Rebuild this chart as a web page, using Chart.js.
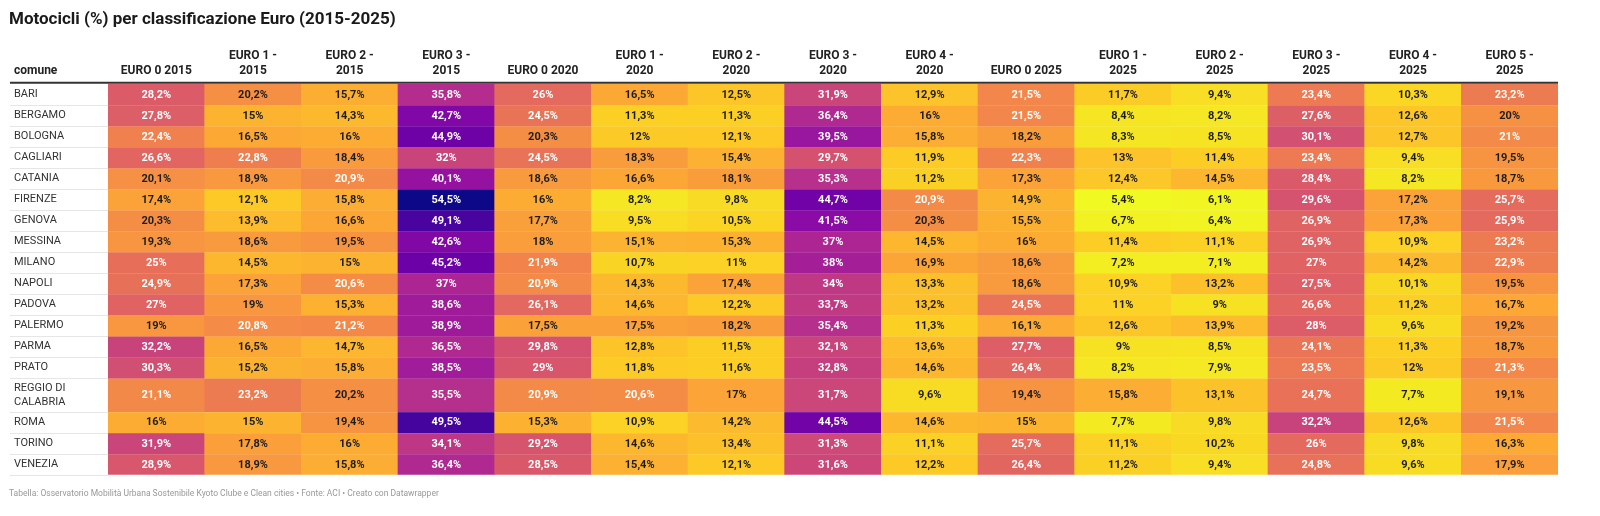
<!DOCTYPE html>
<html>
<head>
<meta charset="utf-8">
<script src="https://cdn.jsdelivr.net/npm/chart.js@4"></script>
<style>
  body { margin: 0; background: #fff; }
  #wrap { width: 1600px; height: 516px; }
</style>
</head>
<body>
<div id="wrap"><canvas id="heat"></canvas></div>
<script>
var cities = ["BARI", "BERGAMO", "BOLOGNA", "CAGLIARI", "CATANIA", "FIRENZE", "GENOVA", "MESSINA", "MILANO",
  "NAPOLI", "PADOVA", "PALERMO", "PARMA", "PRATO", "REGGIO DI CALABRIA", "ROMA", "TORINO", "VENEZIA"];

var columns = ["EURO 0 2015", "EURO 1 - 2015", "EURO 2 - 2015", "EURO 3 - 2015", "EURO 0 2020", "EURO 1 - 2020",
  "EURO 2 - 2020", "EURO 3 - 2020", "EURO 4 - 2020", "EURO 0 2025", "EURO 1 - 2025", "EURO 2 - 2025",
  "EURO 3 - 2025", "EURO 4 - 2025", "EURO 5 - 2025"];

// one array per column, in city order
var euro0_2015 = [28.2, 27.8, 22.4, 26.6, 20.1, 17.4, 20.3, 19.3, 25, 24.9, 27, 19, 32.2, 30.3, 21.1, 16, 31.9, 28.9];
var euro1_2015 = [20.2, 15, 16.5, 22.8, 18.9, 12.1, 13.9, 18.6, 14.5, 17.3, 19, 20.8, 16.5, 15.2, 23.2, 15, 17.8, 18.9];
var euro2_2015 = [15.7, 14.3, 16, 18.4, 20.9, 15.8, 16.6, 19.5, 15, 20.6, 15.3, 21.2, 14.7, 15.8, 20.2, 19.4, 16, 15.8];
var euro3_2015 = [35.8, 42.7, 44.9, 32, 40.1, 54.5, 49.1, 42.6, 45.2, 37, 38.6, 38.9, 36.5, 38.5, 35.5, 49.5, 34.1, 36.4];
var euro0_2020 = [26, 24.5, 20.3, 24.5, 18.6, 16, 17.7, 18, 21.9, 20.9, 26.1, 17.5, 29.8, 29, 20.9, 15.3, 29.2, 28.5];
var euro1_2020 = [16.5, 11.3, 12, 18.3, 16.6, 8.2, 9.5, 15.1, 10.7, 14.3, 14.6, 17.5, 12.8, 11.8, 20.6, 10.9, 14.6, 15.4];
var euro2_2020 = [12.5, 11.3, 12.1, 15.4, 18.1, 9.8, 10.5, 15.3, 11, 17.4, 12.2, 18.2, 11.5, 11.6, 17, 14.2, 13.4, 12.1];
var euro3_2020 = [31.9, 36.4, 39.5, 29.7, 35.3, 44.7, 41.5, 37, 38, 34, 33.7, 35.4, 32.1, 32.8, 31.7, 44.5, 31.3, 31.6];
var euro4_2020 = [12.9, 16, 15.8, 11.9, 11.2, 20.9, 20.3, 14.5, 16.9, 13.3, 13.2, 11.3, 13.6, 14.6, 9.6, 14.6, 11.1, 12.2];
var euro0_2025 = [21.5, 21.5, 18.2, 22.3, 17.3, 14.9, 15.5, 16, 18.6, 18.6, 24.5, 16.1, 27.7, 26.4, 19.4, 15, 25.7, 26.4];
var euro1_2025 = [11.7, 8.4, 8.3, 13, 12.4, 5.4, 6.7, 11.4, 7.2, 10.9, 11, 12.6, 9, 8.2, 15.8, 7.7, 11.1, 11.2];
var euro2_2025 = [9.4, 8.2, 8.5, 11.4, 14.5, 6.1, 6.4, 11.1, 7.1, 13.2, 9, 13.9, 8.5, 7.9, 13.1, 9.8, 10.2, 9.4];
var euro3_2025 = [23.4, 27.6, 30.1, 23.4, 28.4, 29.6, 26.9, 26.9, 27, 27.5, 26.6, 28, 24.1, 23.5, 24.7, 32.2, 26, 24.8];
var euro4_2025 = [10.3, 12.6, 12.7, 9.4, 8.2, 17.2, 17.3, 10.9, 14.2, 10.1, 11.2, 9.6, 11.3, 12, 7.7, 12.6, 9.8, 9.6];
var euro5_2025 = [23.2, 20, 21, 19.5, 18.7, 25.7, 25.9, 23.2, 22.9, 19.5, 16.7, 19.2, 18.7, 21.3, 19.1, 21.5, 16.3, 17.9];

var series = [euro0_2015, euro1_2015, euro2_2015, euro3_2015, euro0_2020, euro1_2020, euro2_2020, euro3_2020,
  euro4_2020, euro0_2025, euro1_2025, euro2_2025, euro3_2025, euro4_2025, euro5_2025];

var FONT = "Roboto";

// header "EURO 1 - 2015" -> ["EURO 1 -", "2015"]
function headerLines(c) {
  var p = c.split(" - ");
  return p.length > 1 ? [p[0] + " -", p[1]] : c;
}

// wrap long city names like the table does
function cityLines(c) {
  if (c.length <= 12) return [c];
  var words = c.split(" "), lines = [], cur = "";
  words.forEach(function (w) {
    if (cur && (cur + " " + w).length > 11) { lines.push(cur); cur = w; }
    else cur = cur ? cur + " " + w : w;
  });
  lines.push(cur);
  return lines;
}

var labelLines = cities.map(cityLines);
var rowTop = [], rowH = [], total = 0;
labelLines.forEach(function (l) {
  var h = 1 + 0.6 * (l.length - 1);
  rowTop.push(total);
  rowH.push(h);
  total += h;
});

// plasma colour scale, reversed (low = yellow, high = dark blue)
var plasma = ["#0d0887", "#41049d", "#6a00a8", "#8f0da4", "#b12a90", "#cc4778",
  "#e16462", "#f2844b", "#fca636", "#fcce25", "#f0f921"];
var all = [].concat.apply([], series);
var vmin = Math.min.apply(null, all), vmax = Math.max.apply(null, all);

function hex(h) { return [1, 3, 5].map(function (i) { return parseInt(h.substr(i, 2), 16); }); }

function colorFor(v) {
  var t = Math.pow((v - vmin) / (vmax - vmin), 1.1);
  var u = (1 - t) * (plasma.length - 1);
  var i = Math.min(Math.floor(u), plasma.length - 2), f = u - i;
  var a = hex(plasma[i]), b = hex(plasma[i + 1]);
  return "rgb(" + a.map(function (c, k) { return Math.round(c + (b[k] - c) * f); }).join(",") + ")";
}

function fmt(v) { return String(v).replace(".", ",") + "%"; }

var datasets = cities.map(function (c, i) {
  return {
    label: c,
    data: columns.map(function () { return [rowTop[i], rowTop[i] + rowH[i]]; }),
    backgroundColor: series.map(function (s) { return colorFor(s[i]); }),
    borderWidth: 0,
    borderSkipped: false,
    barPercentage: 1,
    categoryPercentage: 1,
    grouped: false
  };
});

var tablePlugin = {
  id: "tablePlugin",
  afterLayout: function (chart) {
    // city labels sit a little to the right of the title
    chart.scales.y.left = 14;
  },
  afterDatasetsDraw: function (chart) {
    var ctx = chart.ctx, area = chart.chartArea, y = chart.scales.y;
    ctx.save();
    // row separators
    for (var i = 1; i <= cities.length; i++) {
      var py = Math.round(y.getPixelForValue(i < cities.length ? rowTop[i] : total)) + 0.5;
      ctx.lineWidth = 1;
      ctx.strokeStyle = "#e6e6e6";
      ctx.beginPath(); ctx.moveTo(10, py); ctx.lineTo(area.left, py); ctx.stroke();
      if (i < cities.length) {
        ctx.strokeStyle = "rgba(255,255,255,0.12)";
        ctx.beginPath(); ctx.moveTo(area.left, py); ctx.lineTo(area.right, py); ctx.stroke();
      }
    }
    // cell values
    ctx.font = "bold 11px " + FONT;
    ctx.textAlign = "center";
    ctx.textBaseline = "middle";
    chart.data.datasets.forEach(function (ds, i) {
      chart.getDatasetMeta(i).data.forEach(function (bar, j) {
        var v = series[j][i], p = bar.getCenterPoint();
        ctx.fillStyle = v > 20.45 ? "#ffffff" : "#1d1d1d";
        ctx.fillText(fmt(v), p.x, p.y + 0.5);
      });
    });
    // header rule and first column title
    ctx.strokeStyle = "#333333";
    ctx.lineWidth = 2;
    ctx.beginPath(); ctx.moveTo(10, area.top - 1); ctx.lineTo(area.right, area.top - 1); ctx.stroke();
    ctx.font = "bold 12px " + FONT;
    ctx.fillStyle = "#222222";
    ctx.textAlign = "left";
    ctx.fillText("comune", 14, area.top - 12.5);
    ctx.restore();
  }
};

new Chart(document.getElementById("heat"), {
  type: "bar",
  data: { labels: columns.map(headerLines), datasets: datasets },
  options: {
    responsive: true,
    maintainAspectRatio: false,
    animation: false,
    events: [],
    layout: { padding: { left: 9, right: 42, top: 0, bottom: 17 } },
    scales: {
      x: {
        position: "top",
        grid: { display: false, drawTicks: false },
        border: { display: false },
        ticks: {
          color: "#222222",
          font: { family: FONT, size: 12, weight: "bold", lineHeight: 1.25 },
          padding: 5,
          maxRotation: 0,
          autoSkip: false
        },
        afterFit: function (s) { s.height = 46.4; }
      },
      y: {
        type: "linear",
        reverse: true,
        min: 0,
        max: total,
        grid: { display: false, drawTicks: false },
        border: { display: false },
        ticks: {
          crossAlign: "far",
          autoSkip: false,
          color: "#333333",
          font: { family: FONT, size: 11, lineHeight: 1.25 },
          callback: function (v, i) { return labelLines[i]; }
        },
        afterBuildTicks: function (s) {
          s.ticks = rowTop.map(function (t, i) { return { value: t + rowH[i] / 2 }; });
        },
        afterFit: function (s) { s.width = 99; }
      }
    },
    plugins: {
      legend: { display: false },
      tooltip: { enabled: false },
      title: {
        display: true,
        text: "Motocicli (%) per classificazione Euro (2015-2025)",
        align: "start",
        color: "#1a1a1a",
        font: { family: FONT, size: 17, weight: "bold", lineHeight: 1.2 },
        padding: { top: 10, bottom: 7 }
      },
      subtitle: {
        display: true,
        position: "bottom",
        align: "start",
        text: "Tabella: Osservatorio Mobilità Urbana Sostenibile Kyoto Clube e Clean cities • Fonte: ACI • Creato con Datawrapper",
        color: "#999999",
        font: { family: FONT, size: 8.5, lineHeight: 1.2 },
        padding: { top: 14, bottom: 0 }
      }
    }
  },
  plugins: [tablePlugin]
});
</script>
</body>
</html>
